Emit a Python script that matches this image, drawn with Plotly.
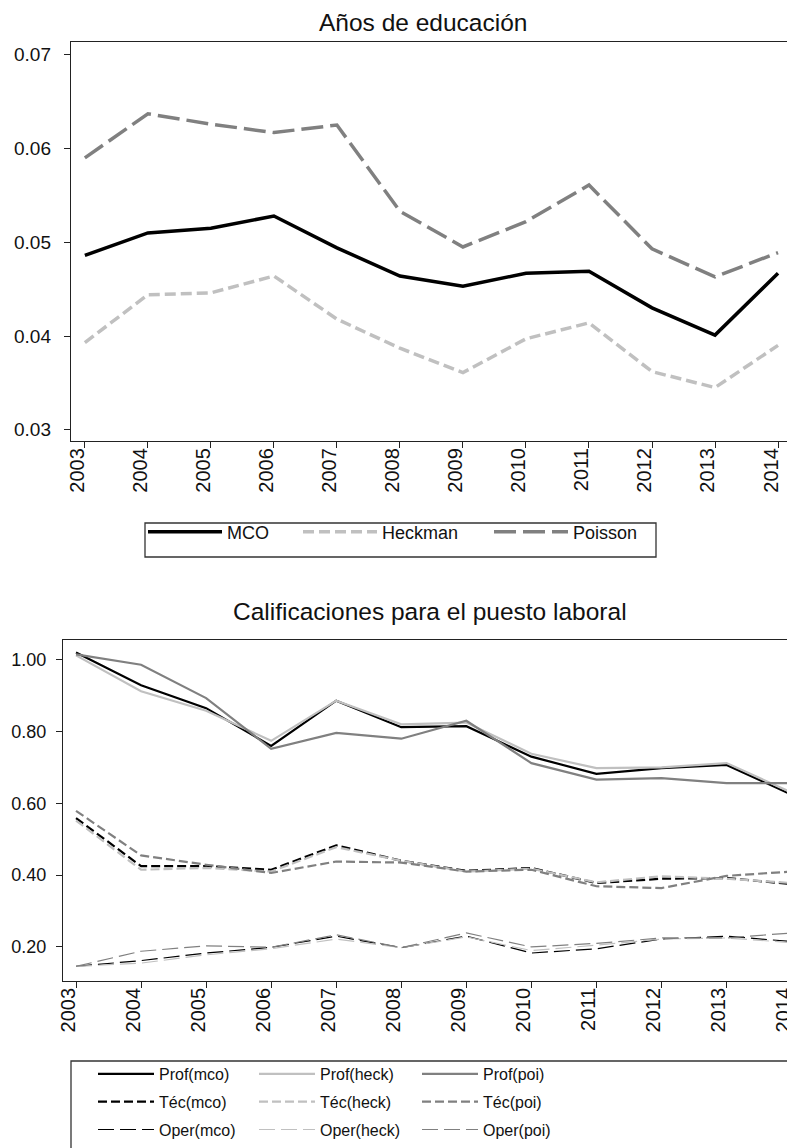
import plotly.graph_objects as go

W, H = 795, 1148

# ---------------- data ----------------
years = [2003, 2004, 2005, 2006, 2007, 2008, 2009, 2010, 2011, 2012, 2013, 2014]
year_labels = [str(y) for y in years]

# Panel 1: Años de educación
mco = [0.0486, 0.0510, 0.0515, 0.0528, 0.0494, 0.0464, 0.0453, 0.0467, 0.0469, 0.0430, 0.0401, 0.0467]
heckman = [0.0393, 0.0444, 0.0446, 0.0464, 0.0418, 0.0387, 0.0361, 0.0397, 0.0414, 0.0362, 0.0345, 0.0390]
poisson = [0.0590, 0.0637, 0.0626, 0.0617, 0.0625, 0.0533, 0.0495, 0.0522, 0.0561, 0.0493, 0.0463, 0.0489]
top_yticks = [0.03, 0.04, 0.05, 0.06, 0.07]

# Panel 2: Calificaciones para el puesto laboral
prof_mco = [1.020, 0.929, 0.865, 0.760, 0.886, 0.812, 0.815, 0.730, 0.682, 0.698, 0.707, 0.624]
prof_heck = [1.012, 0.912, 0.858, 0.774, 0.886, 0.820, 0.825, 0.738, 0.698, 0.700, 0.712, 0.630]
prof_poi = [1.015, 0.986, 0.893, 0.752, 0.796, 0.780, 0.830, 0.712, 0.666, 0.670, 0.656, 0.656]
tec_mco = [0.559, 0.425, 0.425, 0.415, 0.483, 0.440, 0.412, 0.420, 0.378, 0.390, 0.392, 0.375]
tec_heck = [0.552, 0.415, 0.420, 0.410, 0.478, 0.440, 0.410, 0.418, 0.380, 0.397, 0.390, 0.378]
tec_poi = [0.579, 0.455, 0.429, 0.406, 0.438, 0.435, 0.410, 0.415, 0.369, 0.364, 0.398, 0.410]
oper_mco = [0.146, 0.162, 0.183, 0.199, 0.230, 0.198, 0.230, 0.183, 0.195, 0.222, 0.230, 0.215]
oper_heck = [0.146, 0.155, 0.178, 0.195, 0.222, 0.198, 0.228, 0.190, 0.205, 0.222, 0.225, 0.212]
oper_poi = [0.146, 0.188, 0.203, 0.199, 0.234, 0.198, 0.239, 0.200, 0.210, 0.225, 0.225, 0.239]
bot_yticks = [0.20, 0.40, 0.60, 0.80, 1.00]

FONT = "Liberation Sans, Arial, Helvetica, sans-serif"
BLACK = "#000000"
LIGHT = "#c0c0c0"
MID = "#808080"


def px(x):
    return x / W


def py(y):
    return 1 - y / H


fig = go.Figure()

# ---------- top panel traces ----------
top_series = [
    ("MCO", mco, BLACK, "solid", "legend"),
    ("Heckman", heckman, LIGHT, "11px,5px", "legend2"),
    ("Poisson", poisson, MID, "22px,7px", "legend3"),
]
for name, vals, col, dash, leg in top_series:
    fig.add_trace(go.Scatter(
        x=years, y=vals, name=name, mode="lines",
        line=dict(color=col, width=3.5, dash=dash),
        xaxis="x", yaxis="y", legend=leg, showlegend=True,
    ))

# ---------- bottom panel traces ----------
bot_series = [
    ("Prof(mco)", prof_mco, BLACK, "solid", 2.2, "legend4", "m1"),
    ("Téc(mco)", tec_mco, BLACK, "9px,4px", 2.2, "legend4", "m2"),
    ("Oper(mco)", oper_mco, BLACK, "16px,6px", 1.2, "legend4", "m3"),
    ("Prof(heck)", prof_heck, LIGHT, "solid", 2.2, "legend5", "h1"),
    ("Téc(heck)", tec_heck, LIGHT, "9px,4px", 2.2, "legend5", "h2"),
    ("Oper(heck)", oper_heck, LIGHT, "16px,6px", 1.2, "legend5", "h3"),
    ("Prof(poi)", prof_poi, MID, "solid", 2.2, "legend6", "p1"),
    ("Téc(poi)", tec_poi, MID, "9px,4px", 2.2, "legend6", "p2"),
    ("Oper(poi)", oper_poi, MID, "16px,6px", 1.2, "legend6", "p3"),
]
for name, vals, col, dash, w, leg, grp in bot_series:
    fig.add_trace(go.Scatter(
        x=years, y=vals, name=name, mode="lines",
        line=dict(color=col, width=w, dash=dash),
        xaxis="x2", yaxis="y2", legend=leg, legendgroup=grp, showlegend=True,
    ))

axis_common = dict(
    showline=True, mirror=True, linecolor="#222222", linewidth=1.4,
    ticks="outside", ticklen=6, tickwidth=1.3, tickcolor="#222222",
    showgrid=False, zeroline=False, automargin=False,
    ticklabeloverflow="allow",
)
xfont = dict(family=FONT, size=20, color="#111111")
yfont = dict(family=FONT, size=19, color="#111111")
yfont2 = dict(family=FONT, size=18, color="#111111")

fig.update_layout(
    width=W, height=H, autosize=False, showlegend=True,
    margin=dict(l=0, r=0, t=0, b=0, pad=0, autoexpand=False),
    paper_bgcolor="white", plot_bgcolor="white",
    font=dict(family=FONT, color="#111111"),
    xaxis=dict(domain=[px(63), px(782)], range=[2002.78, 2014.19],
               tickmode="array", tickvals=years, ticktext=year_labels,
               tickangle=-90, anchor="y", ticklabelstandoff=-8,
               ticklabelshift=-7, tickfont=xfont, **axis_common),
    yaxis=dict(domain=[py(433), py(34)], range=[0.0288, 0.07136],
               tickmode="array", tickvals=top_yticks,
               ticktext=[f"{v:.2f}" for v in top_yticks],
               anchor="x", ticklabelstandoff=9, tickfont=yfont, **axis_common),
    xaxis2=dict(domain=[px(55), px(794)], range=[2002.8, 2014.16],
                tickmode="array", tickvals=years, ticktext=year_labels,
                tickangle=-90, anchor="y2", ticklabelstandoff=-8,
                ticklabelshift=-8, tickfont=xfont, **axis_common),
    yaxis2=dict(domain=[py(972.7), py(631.7)], range=[0.106, 1.0557],
                tickmode="array", tickvals=bot_yticks,
                ticktext=[f"{v:.2f}" for v in bot_yticks],
                anchor="x2", ticklabelstandoff=6, tickfont=yfont2, **axis_common),
)

leg_top = dict(bgcolor="rgba(0,0,0,0)", borderwidth=0, orientation="v",
               xanchor="left", yanchor="middle", itemwidth=74,
               font=dict(family=FONT, size=18, color="#111111"))
leg_bot = dict(bgcolor="rgba(0,0,0,0)", borderwidth=0, orientation="v",
               xanchor="left", yanchor="middle", tracegroupgap=4, itemwidth=56,
               font=dict(family=FONT, size=16, color="#111111"))

fig.update_layout(
    legend=dict(x=px(135), y=py(524), **leg_top),
    legend2=dict(x=px(290), y=py(524), **leg_top),
    legend3=dict(x=px(481), y=py(524), **leg_top),
    legend4=dict(x=px(85), y=py(1094), **leg_bot),
    legend5=dict(x=px(246), y=py(1094), **leg_bot),
    legend6=dict(x=px(409), y=py(1094), **leg_bot),
)

# legend frames
fig.add_shape(type="rect", xref="paper", yref="paper",
              x0=px(137), x1=px(648), y0=py(549), y1=py(515),
              line=dict(color="#333333", width=1.3))
fig.add_shape(type="rect", xref="paper", yref="paper",
              x0=px(63), x1=px(812), y0=py(1170), y1=py(1053),
              line=dict(color="#333333", width=1.3))

# panel titles
fig.add_annotation(text="Años de educación", xref="paper", yref="paper",
                   x=px(415), y=py(0), xanchor="center", yanchor="top",
                   borderpad=0, showarrow=False,
                   font=dict(family=FONT, size=24.5, color="#111111"))
fig.add_annotation(text="Calificaciones para el puesto laboral", xref="paper", yref="paper",
                   x=px(422), y=py(603), xanchor="center", yanchor="middle",
                   showarrow=False, font=dict(family=FONT, size=24.5, color="#111111"))

fig.write_html("out.html")
